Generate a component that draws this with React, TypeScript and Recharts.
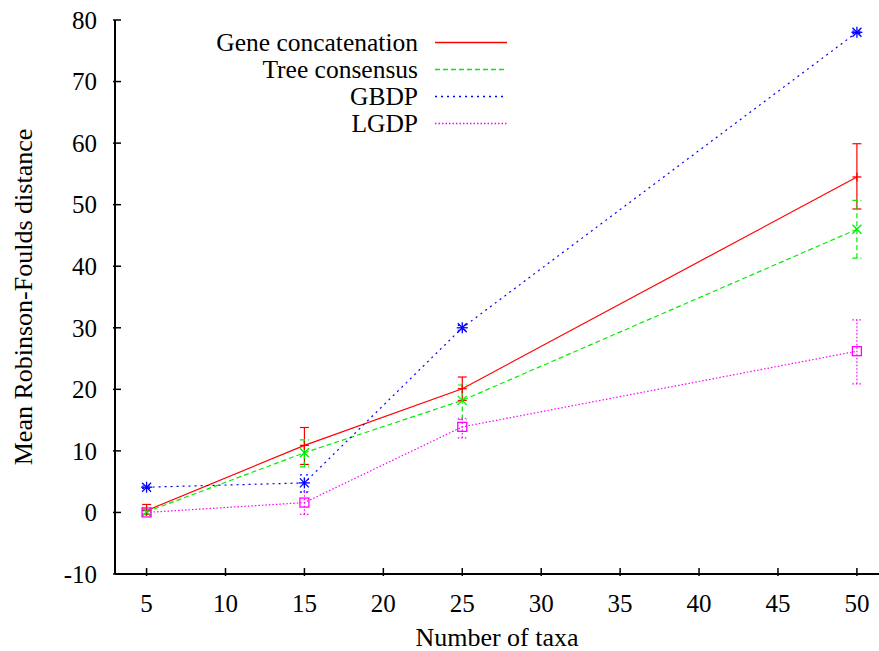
import React from 'react';
import { ComposedChart, Line, XAxis, YAxis, ErrorBar, Legend } from 'recharts';

// ---- data ----
const taxa = [5, 15, 25, 50];
const geneConcatenation = [0.3, 10.9, 20.1, 54.5];
const geneConcatenationErr = [[0.6, 1.0], [3.1, 2.9], [1.9, 1.9], [5.2, 5.4]];
const treeConsensus = [0.1, 9.7, 18.2, 46.0];
const treeConsensusErr = [[0.4, 0.5], [2.3, 2.1], [3.1, 2.5], [4.7, 4.7]];
const gbdp = [4.1, 4.8, 30.0, 78.0];
const gbdpErr = [[0.2, 0.2], [1.5, 1.3], [0.4, 0.4], [0.2, 0.2]];
const lgdp = [0.0, 1.6, 13.9, 26.2];
const lgdpErr = [[0.5, 0.5], [1.9, 1.8], [1.8, 1.4], [5.3, 5.1]];

const xTicks = [5, 10, 15, 20, 25, 30, 35, 40, 45, 50];
const yTicks = [-10, 0, 10, 20, 30, 40, 50, 60, 70, 80];

const seriesNames = ['Gene concatenation', 'Tree consensus', 'GBDP', 'LGDP'];
const seriesColors = ['#ff0000', '#00ee00', '#0000ff', '#ff00ff'];
const seriesDash = [undefined, '5 3', '2 4', '1.5 2'];
const seriesMarker = ['plus', 'cross', 'star', 'square'];

const data = taxa.map((t, i) => ({
  taxa: t,
  gc: geneConcatenation[i],
  gcErr: geneConcatenationErr[i],
  tc: treeConsensus[i],
  tcErr: treeConsensusErr[i],
  gb: gbdp[i],
  gbErr: gbdpErr[i],
  lg: lgdp[i],
  lgErr: lgdpErr[i],
}));

const keys = ['gc', 'tc', 'gb', 'lg'];

const FONT = '"Liberation Serif", "Times New Roman", serif';

function Marker({ cx, cy, kind, color }: any) {
  if (cx == null || cy == null) return null;
  const s = 4.5;
  const sw = 1.3;
  if (kind === 'plus') {
    return (
      <g stroke={color} strokeWidth={sw}>
        <line x1={cx - s} x2={cx + s} y1={cy} y2={cy} />
        <line x1={cx} x2={cx} y1={cy - s} y2={cy + s} />
      </g>
    );
  }
  if (kind === 'cross') {
    return (
      <g stroke={color} strokeWidth={sw}>
        <line x1={cx - s} x2={cx + s} y1={cy - s} y2={cy + s} />
        <line x1={cx - s} x2={cx + s} y1={cy + s} y2={cy - s} />
      </g>
    );
  }
  if (kind === 'star') {
    return (
      <g stroke={color} strokeWidth={sw}>
        <line x1={cx - 5.5} x2={cx + 5.5} y1={cy} y2={cy} />
        <line x1={cx} x2={cx} y1={cy - 5.5} y2={cy + 5.5} />
        <line x1={cx - s} x2={cx + s} y1={cy - s} y2={cy + s} />
        <line x1={cx - s} x2={cx + s} y1={cy + s} y2={cy - s} />
      </g>
    );
  }
  return (
    <rect x={cx - 4.5} y={cy - 4.5} width={9} height={9} fill="none" stroke={color} strokeWidth={sw} />
  );
}

const XTickBottom = ({ x, y, payload }: any) => (
  <g>
    <line x1={x} x2={x} y1={y} y2={y - 8} stroke="#000" strokeWidth={1.5} />
    <text x={x} y={y + 36} textAnchor="middle" fontFamily={FONT} fontSize={25} fill="#000">
      {payload.value}
    </text>
  </g>
);

const XTickTop = ({ x, y }: any) => (
  <line x1={x} x2={x} y1={y} y2={y + 8} stroke="#000" strokeWidth={1.5} />
);

const YTickLeft = ({ x, y, payload }: any) => (
  <g>
    <line x1={x} x2={x + 8} y1={y} y2={y} stroke="#000" strokeWidth={1.5} />
    <text x={x - 16} y={y} dy="0.35em" textAnchor="end" fontFamily={FONT} fontSize={25} fill="#000">
      {payload.value}
    </text>
  </g>
);

const YLabel = ({ viewBox }: any) => {
  const cx = 23;
  const cy = viewBox.y + viewBox.height / 2;
  return (
    <text
      x={cx}
      y={cy}
      dy="0.35em"
      textAnchor="middle"
      transform={`rotate(-90, ${cx}, ${cy})`}
      fontFamily={FONT}
      fontSize={26}
      fill="#000"
    >
      Mean Robinson-Foulds distance
    </text>
  );
};

const LegendContent = () => (
  <svg width={879} height={140} style={{ display: 'block' }}>
    {seriesNames.map((name, i) => {
      const ly = 42 + i * 27;
      return (
        <g key={name}>
          <text x={418} y={ly} dy="0.35em" textAnchor="end" fontFamily={FONT} fontSize={25.5} fill="#000">
            {name}
          </text>
          <line
            x1={435}
            x2={507}
            y1={ly + 0.5}
            y2={ly + 0.5}
            stroke={seriesColors[i]}
            strokeWidth={1.4}
            strokeDasharray={seriesDash[i]}
          />
        </g>
      );
    })}
  </svg>
);

export default function App() {
  return (
    <div style={{ position: 'absolute', left: 0, top: 0, width: 879, height: 651, background: '#fff' }}>
      <ComposedChart width={879} height={651} data={data} margin={{ top: 20, right: 0, bottom: 0, left: 0 }}>
        <XAxis
          dataKey="taxa"
          type="number"
          domain={[3, 51.4]}
          ticks={xTicks}
          interval={0}
          allowDataOverflow
          height={77}
          tickSize={0}
          tickLine={false}
          axisLine={{ stroke: '#000', strokeWidth: 2 }}
          tick={<XTickBottom />}
          label={{ value: 'Number of taxa', position: 'insideBottom', offset: 5, fontFamily: FONT, fontSize: 26, fill: '#000' }}
        />
        <XAxis
          xAxisId="top"
          orientation="top"
          dataKey="taxa"
          type="number"
          domain={[3, 51.4]}
          ticks={xTicks}
          interval={0}
          allowDataOverflow
          height={0}
          tickSize={0}
          tickLine={false}
          axisLine={{ stroke: '#000', strokeWidth: 2 }}
          tick={<XTickTop />}
        />
        <YAxis
          type="number"
          domain={[-10, 80]}
          ticks={yTicks}
          interval={0}
          width={115}
          tickSize={0}
          tickLine={false}
          axisLine={{ stroke: '#000', strokeWidth: 2 }}
          tick={<YTickLeft />}
          label={<YLabel />}
        />
        <Legend
          layout="vertical"
          align="center"
          verticalAlign="middle"
          content={<LegendContent />}
          wrapperStyle={{ position: 'absolute', left: 0, top: 0, width: 879, height: 140 }}
        />
        {keys.map((k, i) => (
          <Line
            key={k}
            dataKey={k}
            name={seriesNames[i]}
            stroke={seriesColors[i]}
            strokeWidth={1.2}
            strokeDasharray={seriesDash[i]}
            isAnimationActive={false}
            dot={(p: any) => <Marker key={`${k}-${p.index}`} cx={p.cx} cy={p.cy} kind={seriesMarker[i]} color={seriesColors[i]} />}
            activeDot={false}
          >
            <ErrorBar
              dataKey={`${k}Err`}
              direction="y"
              width={4.5}
              stroke={seriesColors[i]}
              strokeWidth={1.2}
              strokeDasharray={seriesDash[i]}
              isAnimationActive={false}
            />
          </Line>
        ))}
      </ComposedChart>
    </div>
  );
}
